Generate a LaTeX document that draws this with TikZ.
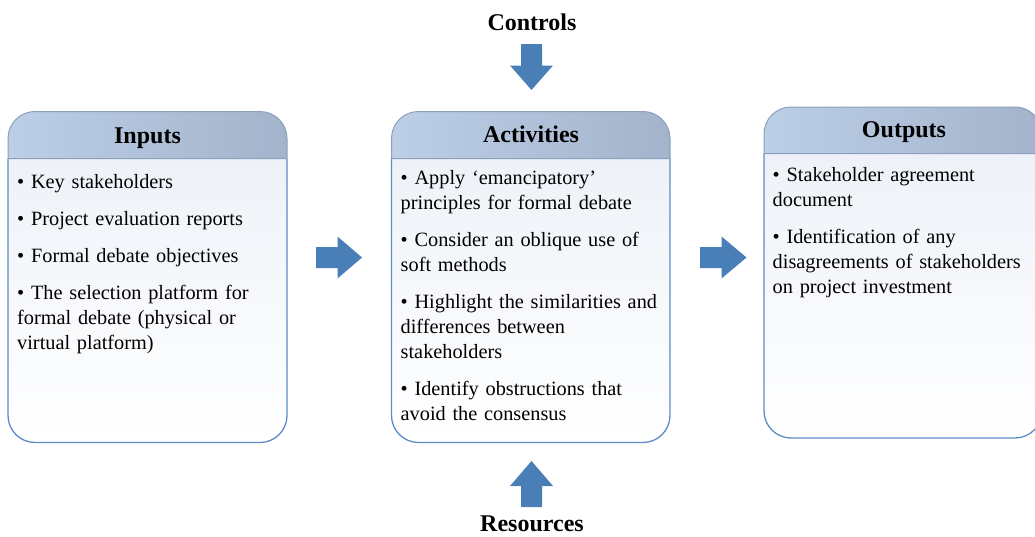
\documentclass[tikz,border=0pt]{standalone}
\usepackage{fontspec}
\setmainfont{Liberation Serif}
\definecolor{hdA}{RGB}{188,207,230}
\definecolor{hdB}{RGB}{163,179,203}
\definecolor{hdLine}{RGB}{140,160,190}
\definecolor{bodyLine}{RGB}{92,140,197}
\definecolor{bodyTop}{RGB}{238,242,248}
\definecolor{arrowblue}{RGB}{74,126,183}
\tikzset{
  hdr/.style={font=\fontsize{24}{28}\selectfont\bfseries, inner sep=0pt, anchor=base},
  bodytext/.style={font=\fontsize{20.3}{25}\selectfont, inner sep=0pt, anchor=base west, text width=300pt, align=left},
  blockarrow/.style={fill=arrowblue, draw=none},
  hdrfill/.style={left color=hdA, right color=hdB, draw=hdLine, line width=1pt, rounded corners=27pt},
  bodyfill/.style={top color=bodyTop, bottom color=white, draw=bodyLine, line width=1.3pt, rounded corners=27pt},
}
\newcommand\IPObox[5]{%
  % #1 x1, #2 x2, #3 y top, #4 y header line, #5 y bottom
  \path[bodyfill] (#1,#4) -- (#1,#5) -- (#2,#5) -- (#2,#4);
  \path[hdrfill] (#1,#4) -- (#1,#3) -- (#2,#3) [sharp corners] -- (#2,#4) -- cycle;
}
\begin{document}
\begin{tikzpicture}[x=1pt,y=-1pt]
\useasboundingbox (0,0) rectangle (1035,536);
\begin{scope}
\clip (0,0) rectangle (1035,536);
\IPObox{8}{287}{111.5}{158.5}{442.5}
\IPObox{391.5}{670}{111.5}{158.5}{442.5}
\IPObox{764}{1042}{107}{153.5}{438}
\end{scope}

% headers
\node[hdr] (hin) at (147.5,143.3) {Inputs};
\node[hdr] (hact) at (531,142.7) {Activities};
\node[hdr] (hout) at (904,137.5) {Outputs};
\node[hdr] (ctrl) at (532,30.7) {Controls};
\node[hdr] (res) at (532,531.5) {Resources};

% body texts
\node[bodytext] (tin) at (17,188.7) {• Key stakeholders\\[12pt]
• Project evaluation reports\\[12pt]
• Formal debate objectives\\[12pt]
• The selection platform for\\
formal debate (physical or\\
virtual platform)};

\node[bodytext] (tact) at (400.5,184) {• Apply ‘emancipatory’\\
principles for formal debate\\[12pt]
• Consider an oblique use of\\
soft methods\\[12pt]
• Highlight the similarities and\\
differences between\\
stakeholders\\[12pt]
• Identify obstructions that\\
avoid the consensus};

\node[bodytext] (tout) at (772.5,181) {• Stakeholder agreement\\
document\\[12pt]
• Identification of any\\
disagreements of stakeholders\\
on project investment};

% block arrows
\fill[blockarrow] (316,247) -- (337.5,247) -- (337.5,236.5) -- (362,257.5) -- (337.5,278.5) -- (337.5,268) -- (316,268) -- cycle;
\fill[blockarrow] (700,247) -- (721.5,247) -- (721.5,236.5) -- (746.5,257.5) -- (721.5,278.5) -- (721.5,268) -- (700,268) -- cycle;
\fill[blockarrow] (521,44) -- (542,44) -- (542,65.5) -- (553,65.5) -- (531.5,90) -- (510,65.5) -- (521,65.5) -- cycle;
\fill[blockarrow] (521,507) -- (542,507) -- (542,486) -- (553,486) -- (531.5,461) -- (510,486) -- (521,486) -- cycle;
\end{tikzpicture}
\end{document}
